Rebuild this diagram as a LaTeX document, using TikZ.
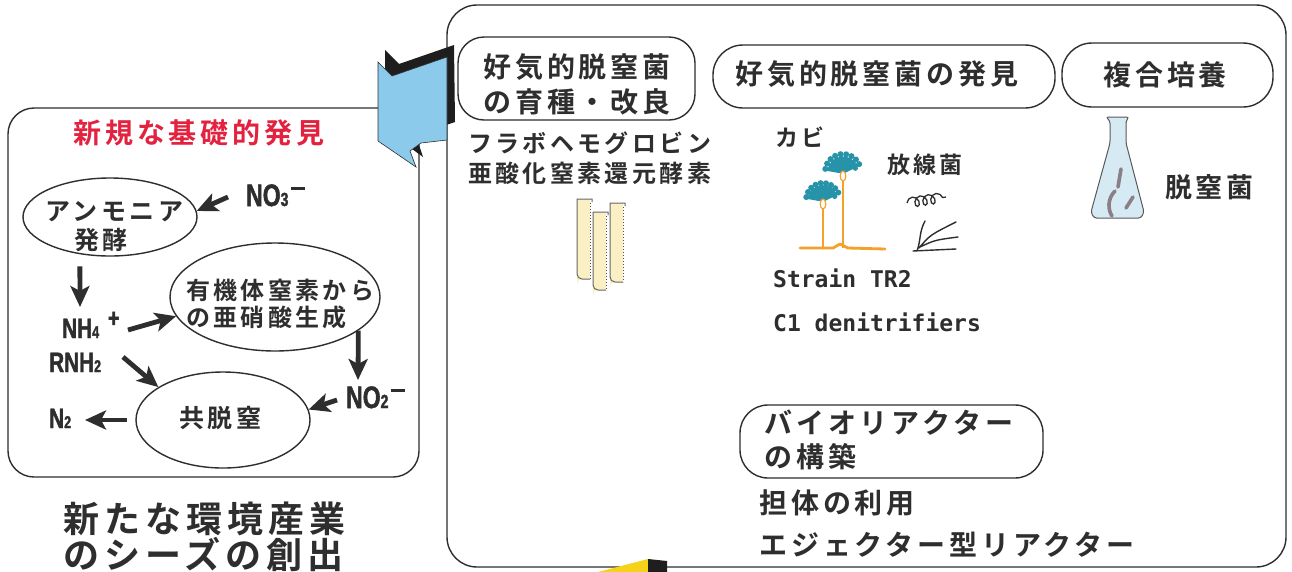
\documentclass[tikz,border=0pt]{standalone}
\usepackage{fontspec}
\usetikzlibrary{arrows.meta,shapes.geometric,calc,decorations.pathmorphing}
\newfontfamily\jp{Noto Sans CJK JP}[LetterSpace=14,BoldFont={Noto Sans CJK JP Bold}]
\newfontfamily\chem{Liberation Sans Bold}[FakeStretch=0.74,FakeBold=1.6]
\newfontfamily\mono{DejaVu Sans Mono}
\newcommand\sz[2]{\fontsize{#1}{#2}\selectfont}
\newcommand\chminus{\rule[16pt]{14pt}{2.8pt}}
\definecolor{ink}{HTML}{2E2E2E}
\definecolor{titlered}{HTML}{E3223F}
\definecolor{flagblue}{HTML}{8CCAEC}
\definecolor{sunyellow}{HTML}{F6D21A}
\definecolor{tubecream}{HTML}{FAF0C3}
\definecolor{stemorange}{HTML}{F3A12A}
\definecolor{headteal}{HTML}{2793A8}
\definecolor{flaskblue}{HTML}{D6EAF4}
\definecolor{rodgray}{HTML}{8A7F86}
\definecolor{shadowblack}{HTML}{1E1E1E}

\begin{document}
\begin{tikzpicture}[x=1pt,y=-1pt,
  frame/.style={draw=ink, line width=1.4pt},
  pill/.style={draw=ink, line width=1.4pt, rounded corners=#1, inner sep=0pt},
  pill/.default=28pt,
  oval/.style={ellipse, draw=ink, line width=1.4pt, inner sep=0pt},
  jt/.style={text=ink, inner sep=0pt, font=\jp\bfseries},
  chemt/.style={text=ink, inner sep=0pt, font=\chem},
  monot/.style={text=ink, inner sep=0pt, font=\mono\bfseries\sz{23}{23}},
  arr/.style={draw=ink, line width=4.8pt, -{Stealth[length=21pt,width=19pt,inset=5pt]}},
  tubeedge/.style={draw=black!60, line width=1pt},
  tubedots/.style={draw=black!70, line width=1pt, dotted}
]
\useasboundingbox (0,0) rectangle (1292,571);
\fill[white] (0,0) rectangle (1292,571);

% ---------- frames ----------
\draw[frame, rounded corners=30pt] (447,5) rectangle (1286,567);
\draw[frame, rounded corners=26pt] (8,108) rectangle (419,477);

% ---------- left panel: nitrogen cycle ----------
\node[jt, text=titlered, anchor=west, font=\jp\bfseries\sz{28}{28}] (title) at (73,133) {新規な基礎的発見};

\node[oval, minimum width=174, minimum height=78] (amm) at (110,217) {};
\node[jt, font=\jp\bfseries\sz{25}{25}] (ammA) at (114,212) {アンモニア};
\node[jt, font=\jp\bfseries\sz{25}{25}] (ammB) at (101,240) {発酵};

\node[oval, minimum width=210, minimum height=108] (org) at (275,297) {};
\node[jt, anchor=west, align=left, font=\jp\bfseries\sz{24}{27}] (orgT) at (186,304) {有機体窒素から\\の亜硝酸生成};

\node[oval, minimum width=174, minimum height=96] (codn) at (223,420) {};
\node[jt, font=\jp\bfseries\sz{25}{25}] (codnT) at (220,418) {共脱窒};

\node[chemt, anchor=base west] (no3) at (246,206) {\sz{31}{31}NO{\sz{19}{19}3}\hspace{3pt}\chminus};
\node[chemt, anchor=base west] (nh4) at (62,338) {\sz{28}{28}NH{\sz{17}{17}4}\hspace{9pt}\raisebox{11pt}{\sz{26}{26}+}};
\node[chemt, anchor=base west] (rnh2) at (49,372) {\sz{28}{28}RNH{\sz{17}{17}2}};
\node[chemt, anchor=base west] (n2) at (49,428) {\sz{28}{28}N{\sz{17}{17}2}};
\node[chemt, anchor=base west] (no2) at (346,408) {\sz{31}{31}NO{\sz{19}{19}2}\hspace{3pt}\chminus};

\draw[arr] ($(no3.base west)+(-18,-9)$) -- (amm.4);
\draw[arr, shorten <=12pt] (amm.231) -- ($(nh4.base west)+(18,-31)$);
\draw[arr] ($(nh4.base west)+(66,-8)$) -- (org.191);
\draw[arr] (org.-22) -- ($(no2.base west)+(12,-28)$);
\draw[arr] ($(no2.base west)+(-9,-8)$) -- (codn.7);
\draw[arr] ($(rnh2.base west)+(74,-15)$) -- (codn.153);
\draw[arr, shorten <=8pt] (codn.west) -- ($(n2.base west)+(36,-8)$);

\node[jt, anchor=west, align=left, font=\jp\bfseries\sz{36}{33}] (seeds) at (63,537) {新たな環境産業\\のシーズの創出};

% ---------- folded blue flag ----------
\fill[shadowblack] (385,50) -- (399,64) -- (454,45) -- (455,122) -- (428,131) -- (417,139) -- (423,157) -- (385,129) -- cycle;
\filldraw[fill=flagblue, draw=ink, line width=0.6pt] (378,62) -- (392,76) -- (447,57) -- (447,140) -- (421,143) -- (410,151) -- (416,167) -- (378,141) -- cycle;

% ---------- right panel: headings ----------
\node[pill=26pt, minimum width=237, minimum height=83] (b1) at (576.5,78.5) {};
\node[jt, anchor=west, align=left, font=\jp\bfseries\sz{28}{35}] (b1T) at (483,84.5) {好気的脱窒菌\\の育種・改良};
\node[pill=30pt, minimum width=342, minimum height=63] (b2) at (884,76.5) {};
\node[jt, anchor=west, font=\jp\bfseries\sz{28}{28}] (b2T) at (735,74) {好気的脱窒菌の発見};
\node[pill=30pt, minimum width=211, minimum height=64] (b3) at (1167.5,75) {};
\node[jt, anchor=west, font=\jp\bfseries\sz{28}{28}] (b3T) at (1103,75) {複合培養};
\node[pill=28pt, minimum width=303, minimum height=73] (b4) at (891.5,441.5) {};
\node[jt, anchor=west, align=left, font=\jp\bfseries\sz{28}{34}] (b4T) at (764,440) {バイオリアクター\\の構築};

% ---------- right panel: labels ----------
\node[jt, anchor=west, font=\jp\bfseries\sz{24}{24}] (flavo) at (468,143) {フラボヘモグロビン};
\node[jt, anchor=west, font=\jp\bfseries\sz{24}{24}] (nor) at (468,173) {亜酸化窒素還元酵素};
\node[jt, anchor=west, font=\jp\bfseries\sz{23}{23}] (kabi) at (775,137) {カビ};
\node[jt, anchor=west, font=\jp\bfseries\sz{23}{23}] (actino) at (887,165) {放線菌};
\node[jt, anchor=west, font=\jp\bfseries\sz{27}{27}] (denit) at (1165,187) {脱窒菌};
\node[monot, anchor=west] (strain) at (773,278) {Strain TR2};
\node[monot, anchor=west] (cone) at (773,322) {C1 denitrifiers};
\node[jt, anchor=west, font=\jp\bfseries\sz{28}{28}] (carrier) at (759,503) {担体の利用};
\node[jt, anchor=west, font=\jp\bfseries\sz{28}{28}] (ejector) at (759,545) {エジェクター型リアクター};

% ---------- test tubes ----------
\foreach \x/\y/\b in {577/199/279, 593/212/290, 610/203/282}{
  \fill[tubecream] (\x,\y) -- (\x+13,\y) -- (\x+13,\b) -- (\x+5,\b) arc[start angle=-90, end angle=-180, radius=5] -- cycle;
  \draw[tubeedge] (\x+15,\y+3) -- (\x+15,\y) -- (\x,\y) -- (\x,\b-5) arc[start angle=180, end angle=90, radius=5] -- (\x+13,\b);
  \draw[tubedots] (\x+13,\y+4) -- (\x+13,\b);
}

% ---------- mould ----------
\draw[stemorange, line width=2.8pt, line cap=round, line join=round] (800,248) -- (833,248) -- (840,244) -- (848,248) -- (885,249);
\draw[stemorange, line width=2.8pt] (823,248) -- (823,206);
\draw[stemorange, line width=2.8pt] (843,248) -- (843,177);
\foreach \bx/\by/\L in {823/200/17, 843/172/18}{
  \foreach \a in {-170,-152,...,-10}{
    \draw[headteal, line width=3.4pt, line cap=round] (\bx,\by) -- ++(\a:\L);
    \fill[headteal] ($(\bx,\by)+(\a:\L)$) circle (3pt);
    \fill[headteal] ($(\bx,\by)+(\a+9:0.72*\L)$) circle (2.6pt);
  }
  \filldraw[fill=white, draw=stemorange, line width=1.2pt] (\bx,\by+4) ellipse (2.8pt and 5pt);
}

% ---------- actinomycete ----------
\draw[ink, line width=1.3pt, decorate, decoration={coil, aspect=0.8, segment length=8pt, amplitude=5pt}] (907,203) -- (946,197);
\draw[ink, line width=1.4pt, line cap=round]
  (917,251) .. controls (921,240) and (919,232) .. (925,221)
  (919,248) .. controls (930,235) .. (956,222)
  (920,247) .. controls (935,240) .. (958,237)
  (913,251) -- (956,249);

% ---------- flask ----------
\filldraw[fill=flaskblue, draw=black!65, line width=1pt, rounded corners=2.5pt]
  (1106,117) -- (1129,117) -- (1126,121) -- (1126,143) -- (1144,212) -- (1141,218) -- (1094,218) -- (1091,212) -- (1110,143) -- (1110,121) -- cycle;
\draw[rodgray, line width=3.6pt, line cap=round] (1121,169) -- (1118,187);
\draw[rodgray, line width=3.6pt, line cap=round] (1115,191) .. controls (1107,199) and (1108,210) .. (1112,216);
\draw[rodgray, line width=3.6pt, line cap=round] (1133,197) -- (1126,208);

% ---------- yellow arrow tail ----------
\fill[sunyellow] (598,572) -- (648,559) -- (648,572) -- cycle;
\fill[shadowblack] (648,559) -- (667,561) -- (667,572) -- (648,572) -- cycle;
\end{tikzpicture}
\end{document}
